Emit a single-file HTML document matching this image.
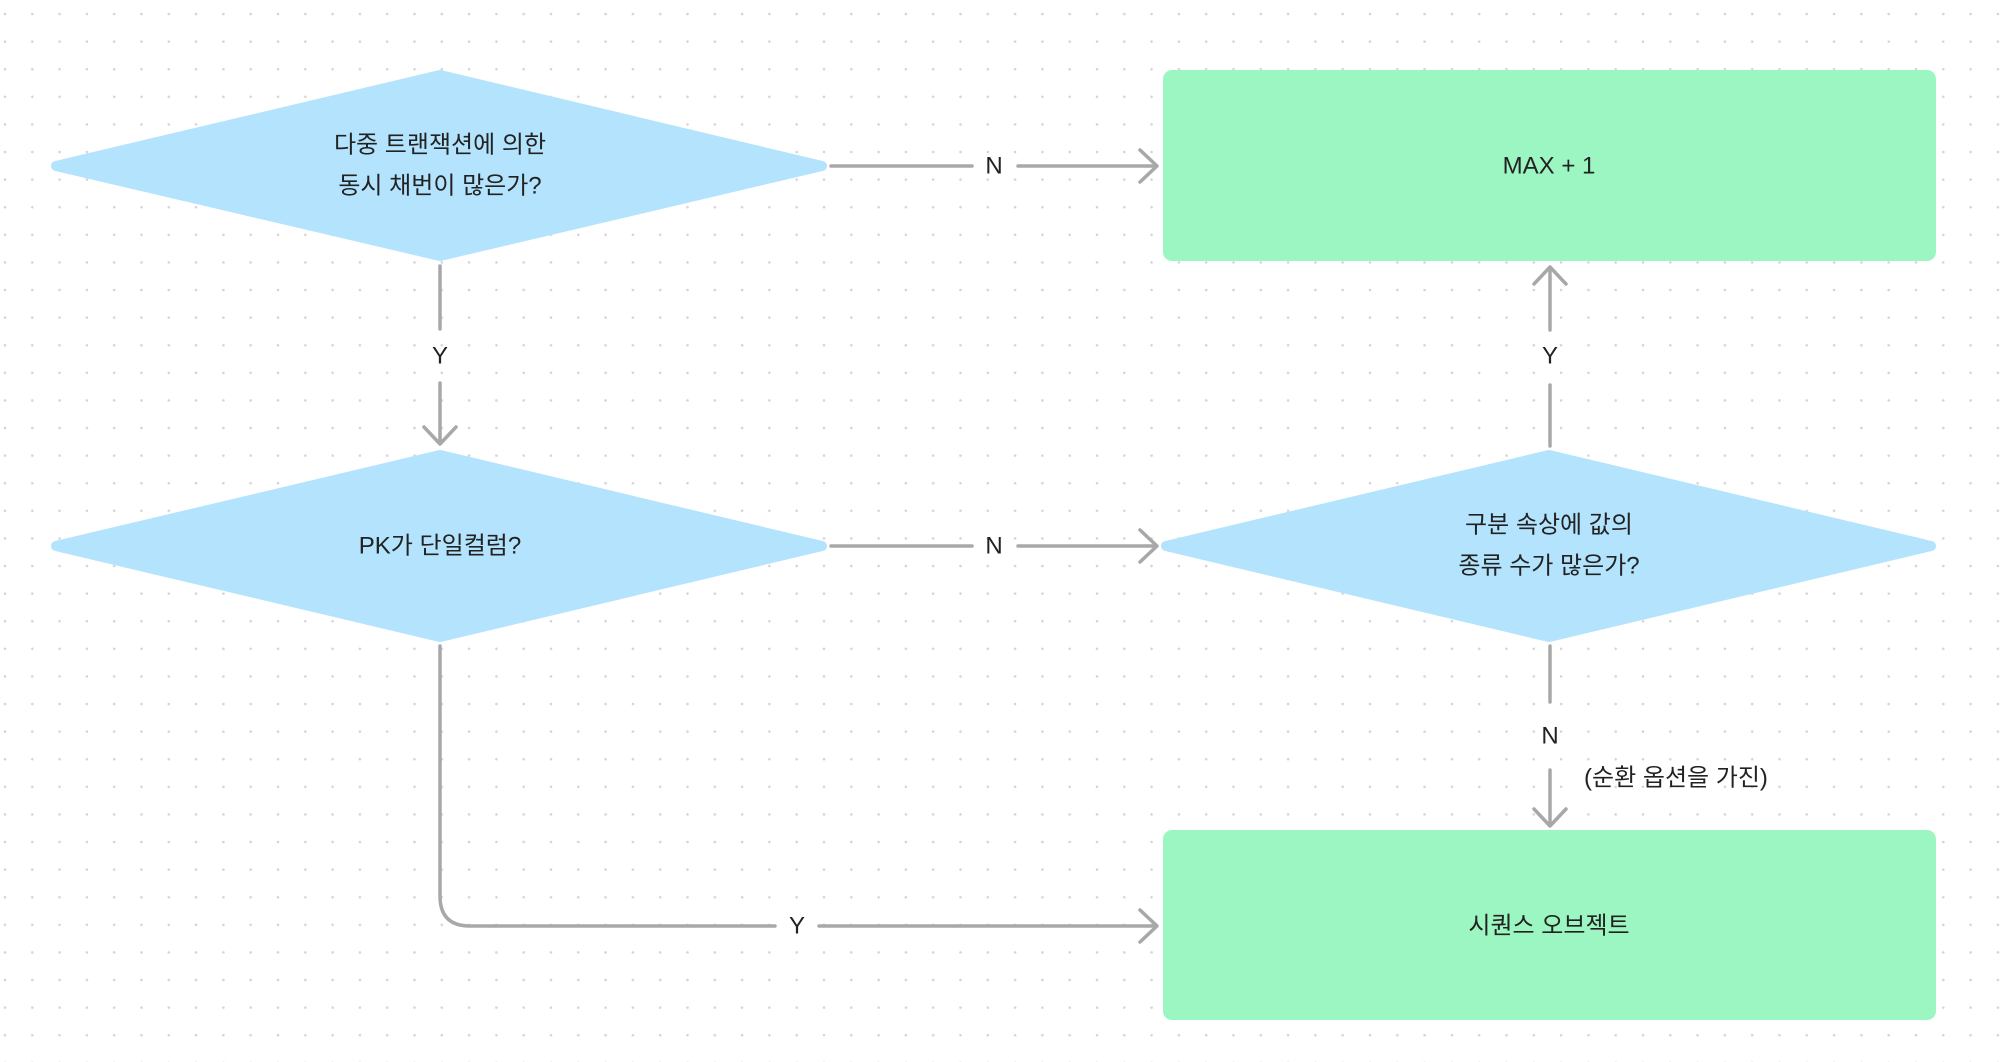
<!DOCTYPE html>
<html><head><meta charset="utf-8"><style>
html,body{margin:0;padding:0;background:#fff;}
svg{display:block}
text{font-family:"Liberation Sans","Noto Sans CJK KR",sans-serif;font-size:24px;fill:#222;text-anchor:middle;dominant-baseline:middle}
</style></head><body>
<svg width="2000" height="1062" viewBox="0 0 2000 1062" xmlns="http://www.w3.org/2000/svg">
<defs>
<pattern id="dots" width="27.3" height="27.6" patternUnits="userSpaceOnUse" x="3" y="12">
<circle cx="2" cy="2" r="1.3" fill="#d4d4d4"/>
</pattern>
</defs>
<rect width="2000" height="1062" fill="url(#dots)"/>
<g fill="#b3e3fd" stroke="#b3e3fd" stroke-width="10" stroke-linejoin="round">
<polygon points="56,166 440,75 822,166 440,256"/>
<polygon points="56,546 440,455 822,546 440,637"/>
<polygon points="1166,546 1549,455 1931,546 1549,637"/>
</g>
<rect x="1163" y="70" width="773" height="191" rx="9" fill="#9cf6c2"/>
<rect x="1163" y="830" width="773" height="190" rx="9" fill="#9cf6c2"/>
<g stroke="#a8a8a8" stroke-width="3.5" fill="none" stroke-linecap="round" stroke-linejoin="round">
<line x1="831" y1="166" x2="972" y2="166"/><line x1="1018" y1="166" x2="1156" y2="166"/>
<polyline points="1140,150 1157,166 1140,182"/>
<line x1="831" y1="546" x2="972" y2="546"/><line x1="1018" y1="546" x2="1156" y2="546"/>
<polyline points="1140,530 1157,546 1140,562"/>
<line x1="440" y1="266" x2="440" y2="329"/><line x1="440" y1="383" x2="440" y2="443"/>
<polyline points="424,427 440,444 456,427"/>
<line x1="1550" y1="446" x2="1550" y2="385"/><line x1="1550" y1="330" x2="1550" y2="268"/>
<polyline points="1534,284 1550,267 1566,284"/>
<line x1="1550" y1="646" x2="1550" y2="702"/><line x1="1550" y1="770" x2="1550" y2="825"/>
<polyline points="1534,809 1550,826 1566,809"/>
<path d="M440,646 V896 Q440,926 470,926 H775"/><line x1="819" y1="926" x2="1156" y2="926"/>
<polyline points="1140,910 1157,926 1140,942"/>
</g>
<text x="440" y="146">다중 트랜잭션에 의한</text>
<text x="440" y="187">동시 채번이 많은가?</text>
<text x="440" y="547">PK가 단일컬럼?</text>
<text x="1549" y="526">구분 속상에 값의</text>
<text x="1549" y="567">종류 수가 많은가?</text>
<text x="1549" y="167">MAX + 1</text>
<text x="1549" y="927">시퀀스 오브젝트</text>
<text x="994" y="167">N</text>
<text x="994" y="547">N</text>
<text x="440" y="357">Y</text>
<text x="1550" y="357">Y</text>
<text x="1550" y="737">N</text>
<text x="797" y="927">Y</text>
<text x="1676" y="779">(순환 옵션을 가진)</text>
</svg>
</body></html>
